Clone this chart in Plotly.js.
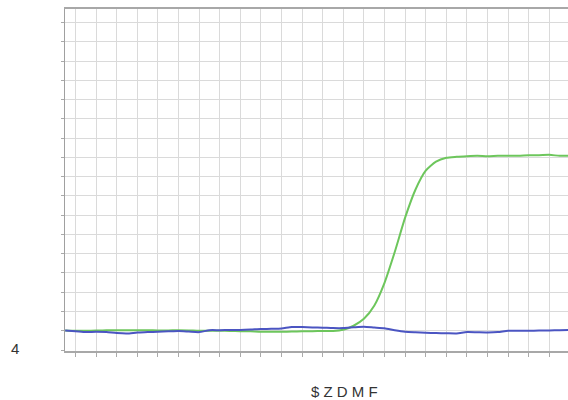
<!DOCTYPE html>
<html>
<head>
<meta charset="utf-8">
<script src="https://cdn.plot.ly/plotly-3.0.1.min.js"></script>
<style>
  html, body { margin: 0; padding: 0; overflow: hidden; background: #fff; }
  #chart { width: 620px; height: 400px; }
</style>
</head>
<body>
<div id="chart"></div>
<script>
// Cycle numbers
const cycles = [1,2,3,4,5,6,7,8,9,10,11,12,13,14,15,16,17,18,19,20,21,22,23,24,25,
  26,27,28,29,30,31,32,33,34,35,36,37,38,39,40,41,42,43,44,45,46,47,48,49,50];

// Green series (amplifying sample)
const greenValues = [1.02,1.00,1.00,1.01,1.03,1.03,1.03,1.03,1.03,1.02,1.02,1.03,1.02,1.00,1.00,
  1.00,0.99,0.98,0.97,0.95,0.95,0.95,0.96,0.97,0.98,0.99,0.99,1.05,1.26,1.62,
  2.30,3.49,5.10,6.87,8.32,9.31,9.78,9.98,10.03,10.06,10.08,10.06,10.08,10.08,10.08,
  10.11,10.11,10.13,10.08,10.08];

// Blue series (non-amplifying sample)
const blueValues = [1.02,0.98,0.93,0.95,0.93,0.88,0.86,0.91,0.93,0.95,0.97,0.99,0.96,0.93,1.03,
  1.03,1.04,1.04,1.06,1.09,1.10,1.12,1.20,1.19,1.17,1.16,1.14,1.14,1.18,1.21,
  1.17,1.13,1.03,0.95,0.92,0.90,0.88,0.87,0.86,0.93,0.92,0.91,0.93,1.00,1.00,
  1.00,1.01,1.02,1.03,1.05];

// Texts
const xTitle = "$ Z D M F";
const yTitle = "4";

const traces = [
  { x: cycles, y: blueValues, mode: 'lines', line: { color: '#4b55c2', width: 2, shape: 'spline', smoothing: 0.6 }, hoverinfo: 'skip' },
  { x: cycles, y: greenValues, mode: 'lines', line: { color: '#6dc65c', width: 2, shape: 'spline', smoothing: 0.6 }, hoverinfo: 'skip' }
];
// draw blue on top like reference where they overlap
traces.reverse();

const W = 620;
const layout = {
  width: W, height: 400,
  margin: { l: 65, r: 0, t: 9, b: 49, pad: 0 },
  paper_bgcolor: '#fff', plot_bgcolor: '#fff',
  showlegend: false,
  font: { family: 'Liberation Sans, Arial, sans-serif', color: '#333' },
  xaxis: {
    range: [0.98, 0.98 + (W - 65) / 10.3],
    tick0: 0, dtick: 2,
    showticklabels: false,
    ticks: 'outside', ticklen: 4, tickcolor: '#aaa', tickwidth: 1,
    showgrid: true, gridcolor: '#dadada', gridwidth: 1,
    zeroline: false,
    showline: true, linecolor: '#a8a8a8', linewidth: 2, mirror: true
  },
  yaxis: {
    range: [-0.05, 17.7],
    tick0: 0, dtick: 1,
    showticklabels: false,
    ticks: 'outside', ticklen: 3, tickcolor: '#aaa', tickwidth: 1,
    showgrid: true, gridcolor: '#dadada', gridwidth: 1,
    zeroline: false,
    showline: true, linecolor: '#a0a0a0', linewidth: 1.5, mirror: true
  },
  annotations: [
    { text: xTitle, xref: 'paper', yref: 'paper', x: (344 - 65) / (W - 65), y: (351 - 391.5) / 342,
      xanchor: 'center', yanchor: 'middle', showarrow: false,
      font: { size: 15, color: '#333', family: 'Liberation Sans, Arial, sans-serif' } },
    { text: yTitle, xref: 'paper', yref: 'paper', x: (15 - 65) / (W - 65), y: (351 - 348.7) / 342,
      xanchor: 'center', yanchor: 'middle', showarrow: false,
      font: { size: 15, color: '#333', family: 'Liberation Sans, Arial, sans-serif' } }
  ]
};

Plotly.newPlot('chart', traces, layout, { staticPlot: true, displayModeBar: false });
</script>
</body>
</html>
